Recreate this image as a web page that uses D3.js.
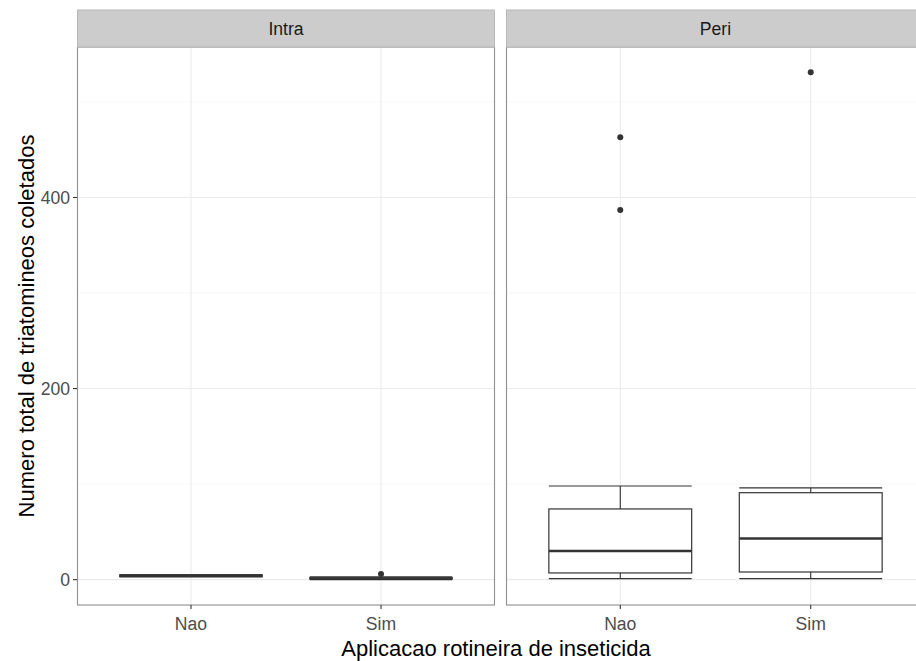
<!DOCTYPE html>
<html><head><meta charset="utf-8">
<script src="https://cdn.jsdelivr.net/npm/d3@7"></script>
<style>body{margin:0;background:#fff;overflow:hidden}svg{display:block}text{font-family:"Liberation Sans",Arial,sans-serif}</style>
</head><body>
<svg id="c" width="916" height="661"></svg>
<script>
const panels = ["Intra", "Peri"];
const categories = ["Nao", "Sim"];
// box stats per panel/category: [lowerWhisker, q1, median, q3, upperWhisker]
const intraStats = [[3, 3, 4, 5, 5], [0, 1, 1, 2, 3]];
const periStats = [[1, 7, 30, 74, 98], [1, 8, 43, 91, 96]];
const intraOutliers = [[], [6]];
const periOutliers = [[463, 387], [531]];
const yTicks = [0, 200, 400];
const yMinor = [100, 300, 500];

const stats = {Intra: intraStats, Peri: periStats};
const outliers = {Intra: intraOutliers, Peri: periOutliers};

const svg = d3.select("#c");
const pTop = 47, pBottom = 605, stripTop = 10;
const panelX = {Intra: [77, 495], Peri: [506, 925]};

const allVals = [...intraStats.flat(), ...periStats.flat(), ...intraOutliers.flat(), ...periOutliers.flat()];
const lo = d3.min(allVals), hi = d3.max(allVals), pad = (hi - lo) * 0.05;
const y = d3.scaleLinear().domain([lo - pad, hi + pad]).range([pBottom, pTop]);

panels.forEach(p => {
  const [x0, x1] = panelX[p];
  const x = d3.scalePoint().domain(categories).range([x0, x1]).padding(0.6);
  const step = x.step();
  const g = svg.append("g");
  g.append("rect").attr("x", x0).attr("y", pTop).attr("width", x1 - x0).attr("height", pBottom - pTop).attr("fill", "#fff");
  // grid
  yMinor.forEach(v => g.append("line").attr("x1", x0).attr("x2", x1).attr("y1", y(v)).attr("y2", y(v)).attr("stroke", "#f4f4f4").attr("stroke-width", 0.6));
  yTicks.forEach(v => g.append("line").attr("x1", x0).attr("x2", x1).attr("y1", y(v)).attr("y2", y(v)).attr("stroke", "#ebebeb").attr("stroke-width", 1.1));
  categories.forEach(c => g.append("line").attr("x1", x(c)).attr("x2", x(c)).attr("y1", pTop).attr("y2", pBottom).attr("stroke", "#ebebeb").attr("stroke-width", 1.1));
  // boxes
  const bw = step * 0.75;
  categories.forEach((c, i) => {
    const [w0, q1, md, q3, w1] = stats[p][i];
    const cx = x(c);
    const bg = g.append("g").attr("stroke", "#333").attr("fill", "none");
    bg.append("line").attr("x1", cx).attr("x2", cx).attr("y1", y(q3)).attr("y2", y(w1)).attr("stroke-width", 1.1);
    bg.append("line").attr("x1", cx).attr("x2", cx).attr("y1", y(q1)).attr("y2", y(w0)).attr("stroke-width", 1.1);
    bg.append("line").attr("x1", cx - bw / 2).attr("x2", cx + bw / 2).attr("y1", y(w1)).attr("y2", y(w1)).attr("stroke-width", 1.2);
    bg.append("line").attr("x1", cx - bw / 2).attr("x2", cx + bw / 2).attr("y1", y(w0)).attr("y2", y(w0)).attr("stroke-width", 1.2);
    bg.append("rect").attr("x", cx - bw / 2).attr("y", y(q3)).attr("width", bw).attr("height", Math.max(0.01, y(q1) - y(q3))).attr("fill", "#fff").attr("stroke-width", 1.2);
    bg.append("line").attr("x1", cx - bw / 2).attr("x2", cx + bw / 2).attr("y1", y(md)).attr("y2", y(md)).attr("stroke-width", 2.4);
    outliers[p][i].forEach(v => g.append("circle").attr("cx", cx).attr("cy", y(v)).attr("r", 3).attr("fill", "#333"));
  });
  // border
  g.append("rect").attr("x", x0 + 0.5).attr("y", pTop).attr("width", x1 - x0 - 1).attr("height", pBottom - pTop).attr("fill", "none").attr("stroke", "#8f8f8f").attr("stroke-width", 1.1);
  // strip
  g.append("rect").attr("x", x0 + 0.5).attr("y", stripTop).attr("width", x1 - x0 - 1).attr("height", pTop - stripTop).attr("fill", "#cccccc").attr("stroke", "#b8b8b8").attr("stroke-width", 1);
  g.append("text").attr("x", (x0 + x1) / 2).attr("y", (stripTop + pTop) / 2 + 6.3).attr("text-anchor", "middle").attr("font-size", 17.6).attr("fill", "#1a1a1a").text(p);
  // x axis
  categories.forEach(c => {
    g.append("line").attr("x1", x(c)).attr("x2", x(c)).attr("y1", pBottom).attr("y2", pBottom + 4).attr("stroke", "#333").attr("stroke-width", 1.1);
    g.append("text").attr("x", x(c)).attr("y", pBottom + 25).attr("text-anchor", "middle").attr("font-size", 17.6).attr("fill", "#4d4d4d").text(c);
  });
  if (p === "Intra") {
    yTicks.forEach(v => {
      g.append("line").attr("x1", x0 - 4).attr("x2", x0).attr("y1", y(v)).attr("y2", y(v)).attr("stroke", "#333").attr("stroke-width", 1.1);
      g.append("text").attr("x", x0 - 7).attr("y", y(v) + 6.3).attr("text-anchor", "end").attr("font-size", 17.6).attr("fill", "#4d4d4d").text(v);
    });
  }
});

svg.append("text").attr("x", 496).attr("y", 656).attr("text-anchor", "middle").attr("font-size", 22).attr("fill", "#000").text("Aplicacao rotineira de inseticida");
svg.append("text").attr("transform", `translate(34,${(pTop + pBottom) / 2}) rotate(-90)`).attr("text-anchor", "middle").attr("font-size", 22).attr("fill", "#000").text("Numero total de triatomineos coletados");
</script>
</body></html>
